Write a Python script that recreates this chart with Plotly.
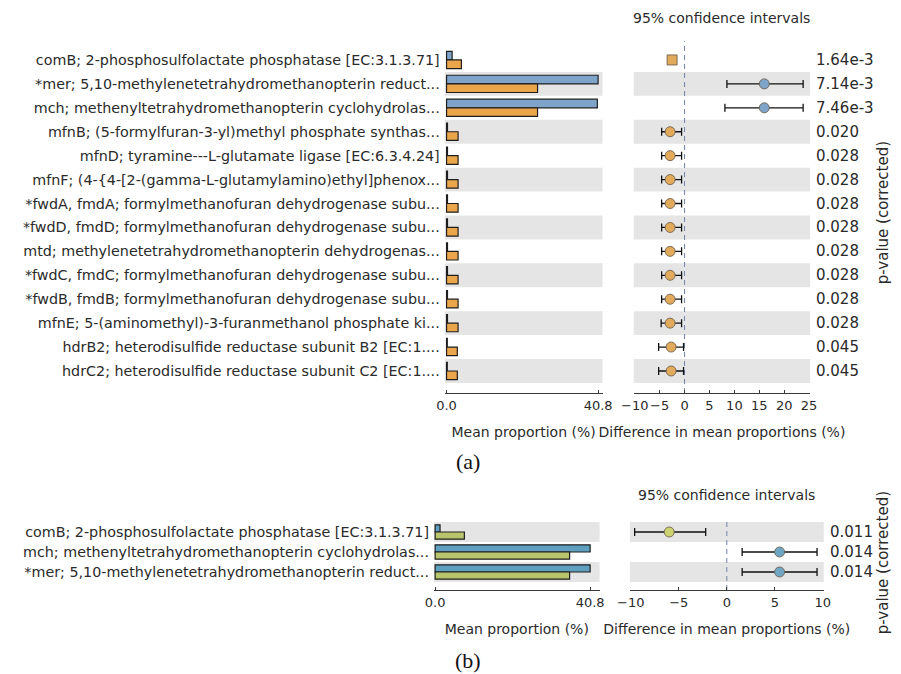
import plotly.graph_objects as go

W, H = 901, 674

# ---------------- Panel (a) data ----------------
a_features = [
    "comB; 2-phosphosulfolactate phosphatase [EC:3.1.3.71]",
    "*mer; 5,10-methylenetetrahydromethanopterin reduct...",
    "mch; methenyltetrahydromethanopterin cyclohydrolas...",
    "mfnB; (5-formylfuran-3-yl)methyl phosphate synthas...",
    "mfnD; tyramine---L-glutamate ligase [EC:6.3.4.24]",
    "mfnF; (4-{4-[2-(gamma-L-glutamylamino)ethyl]phenox...",
    "*fwdA, fmdA; formylmethanofuran dehydrogenase subu...",
    "*fwdD, fmdD; formylmethanofuran dehydrogenase subu...",
    "mtd; methylenetetrahydromethanopterin dehydrogenas...",
    "*fwdC, fmdC; formylmethanofuran dehydrogenase subu...",
    "*fwdB, fmdB; formylmethanofuran dehydrogenase subu...",
    "mfnE; 5-(aminomethyl)-3-furanmethanol phosphate ki...",
    "hdrB2; heterodisulfide reductase subunit B2 [EC:1....",
    "hdrC2; heterodisulfide reductase subunit C2 [EC:1....",
]
a_group1 = [1.5, 40.8, 40.6, 0.25, 0.25, 0.25, 0.25, 0.25, 0.25, 0.25, 0.25, 0.25, 0.2, 0.2]
a_group2 = [4.0, 24.5, 24.5, 3.1, 3.1, 3.1, 3.1, 3.1, 3.1, 3.1, 3.1, 3.1, 2.9, 2.9]
a_diff = [-2.5, 16.0, 16.0, -2.9, -2.9, -2.9, -2.9, -2.9, -2.9, -2.9, -2.9, -2.9, -2.7, -2.7]
a_ci_low = [-2.7, 8.5, 8.1, -4.6, -4.6, -4.6, -4.6, -4.6, -4.6, -4.6, -4.6, -4.7, -5.2, -5.2]
a_ci_high = [-2.3, 23.8, 23.8, -0.6, -0.6, -0.6, -0.6, -0.6, -0.6, -0.6, -0.6, -0.6, -0.2, -0.2]
a_pvalues = ["1.64e-3", "7.14e-3", "7.46e-3", "0.020", "0.028", "0.028", "0.028",
             "0.028", "0.028", "0.028", "0.028", "0.028", "0.045", "0.045"]
a_bar_ticks = [0.0, 40.8]
a_bar_ticktext = ["0.0", "40.8"]
a_ci_ticks = [-10, -5, 0, 5, 10, 15, 20, 25]

# ---------------- Panel (b) data ----------------
b_features = [
    "comB; 2-phosphosulfolactate phosphatase [EC:3.1.3.71]",
    "mch; methenyltetrahydromethanopterin cyclohydrolas...",
    "*mer; 5,10-methylenetetrahydromethanopterin reduct...",
]
b_group1 = [1.3, 40.8, 40.8]
b_group2 = [7.7, 35.4, 35.4]
b_diff = [-6.0, 5.5, 5.5]
b_ci_low = [-9.6, 1.6, 1.6]
b_ci_high = [-2.2, 9.4, 9.4]
b_pvalues = ["0.011", "0.014", "0.014"]
b_bar_ticks = [0.0, 40.8]
b_bar_ticktext = ["0.0", "40.8"]
b_ci_ticks = [-10, -5, 0, 5, 10]

# ---------------- styling ----------------
FONT = "DejaVu Sans"
TXT = "#2a2a2a"
BAND = "#e5e5e5"
FS_LAB = 14.3
FS_TICK = 13
FS_TITLE = 14
FS_P = 15

def px_x(p):
    return p / W

def px_y(p):
    return 1 - p / H

fig = go.Figure()

panels = [
    dict(feats=a_features, g1=a_group1, g2=a_group2, diff=a_diff, lo=a_ci_low, hi=a_ci_high,
         pv=a_pvalues, c1="#7ea5c9", c2="#eba64c", m1="#7ea5c9", m2="#e2ab5c",
         xb="x", yb="y", xc="x2", yc="y2",
         xb_dom=(443, 605), xc_dom=(637, 818), y_px=(48, 393),
         xb_range=[-0.5, 42.0], xc_range=[-10.2, 25.2],
         bticks=a_bar_ticks, btext=a_bar_ticktext, cticks=a_ci_ticks, pad=0.92,
         title_y=18, label="(a)", label_y=461, plab_y=213, standoff=15, square_first=True),
    dict(feats=b_features, g1=b_group1, g2=b_group2, diff=b_diff, lo=b_ci_low, hi=b_ci_high,
         pv=b_pvalues, c1="#5fa0c0", c2="#b9c56c", m1="#6ea6c4", m2="#cdd271",
         xb="x3", yb="y3", xc="x4", yc="y4",
         xb_dom=(432, 602), xc_dom=(633, 832), y_px=(522, 590),
         xb_range=[-0.3, 43.3], xc_range=[-10.1, 10.1],
         bticks=b_bar_ticks, btext=b_bar_ticktext, cticks=b_ci_ticks, pad=0.9,
         title_y=495, label="(b)", label_y=660, plab_y=563, standoff=15, square_first=False),
]

layout_axes = {}
shapes = []
annotations = []

def axname(ref):
    return ref.replace("x", "xaxis").replace("y", "yaxis")

for P in panels:
    n = len(P["feats"])
    fig.add_trace(go.Bar(x=P["g1"], y=P["feats"], orientation="h", xaxis=P["xb"], yaxis=P["yb"],
                         marker=dict(color=P["c1"], line=dict(color="#1e1e1e", width=1.2)),
                         showlegend=False, hoverinfo="x+y"))
    fig.add_trace(go.Bar(x=P["g2"], y=P["feats"], orientation="h", xaxis=P["xb"], yaxis=P["yb"],
                         marker=dict(color=P["c2"], line=dict(color="#1e1e1e", width=1.2)),
                         showlegend=False, hoverinfo="x+y"))
    plus = [h - d for h, d in zip(P["hi"], P["diff"])]
    minus = [d - l for d, l in zip(P["diff"], P["lo"])]
    mcols = [P["m2"] if d < 0 else P["m1"] for d in P["diff"]]
    symbols = ["circle"] * n
    if P["square_first"]:
        symbols[0] = "square"
    fig.add_trace(go.Scatter(x=P["diff"], y=P["feats"], mode="markers", xaxis=P["xc"], yaxis=P["yc"],
                             marker=dict(color=mcols, size=10, symbol=symbols,
                                         line=dict(color="#6f6150", width=0.9)),
                             error_x=dict(type="data", array=plus, arrayminus=minus, color="#111",
                                          thickness=1.3, width=4),
                             showlegend=False))

    ydom = [px_y(P["y_px"][1]), px_y(P["y_px"][0])]
    yrange = [n - 1 + P["pad"], -0.5]
    xbk, ybk, xck, yck = axname(P["xb"]), axname(P["yb"]), axname(P["xc"]), axname(P["yc"])
    common_x = dict(showline=True, linecolor="#3a3a3a", linewidth=1, ticks="inside", ticklen=3,
                    tickcolor="#3a3a3a", showgrid=False, zeroline=False, tickangle=0,
                    tickfont=dict(family=FONT, size=FS_TICK, color=TXT))
    layout_axes[xbk] = dict(common_x, domain=[px_x(P["xb_dom"][0]), px_x(P["xb_dom"][1])],
                            range=P["xb_range"], anchor=P["yb"], tickmode="array",
                            tickvals=P["bticks"], ticktext=P["btext"],
                            title=dict(text="Mean proportion (%)", standoff=P["standoff"],
                                       font=dict(family=FONT, size=FS_TITLE, color=TXT)))
    layout_axes[ybk] = dict(domain=ydom, type="category", categoryorder="array",
                            categoryarray=P["feats"], range=yrange, anchor=P["xb"],
                            showline=False, showgrid=False, zeroline=False, ticks="",
                            ticklabelstandoff=4,
                            tickfont=dict(family=FONT, size=FS_LAB, color=TXT))
    layout_axes[xck] = dict(common_x, domain=[px_x(P["xc_dom"][0]), px_x(P["xc_dom"][1])],
                            range=P["xc_range"], anchor=P["yc"], tickmode="array",
                            tickvals=P["cticks"],
                            title=dict(text="Difference in mean proportions (%)", standoff=P["standoff"],
                                       font=dict(family=FONT, size=FS_TITLE, color=TXT)))
    layout_axes[yck] = dict(domain=ydom, type="category", categoryorder="array",
                            categoryarray=P["feats"], range=yrange, anchor=P["xc"],
                            showline=False, showgrid=False, zeroline=False, showticklabels=False,
                            ticks="")

    for i in range(n):
        if (n - 1 - i) % 2 == 0:
            for xr, yr in ((P["xb"], P["yb"]), (P["xc"], P["yc"])):
                shapes.append(dict(type="rect", xref=f"{xr} domain", yref=yr, x0=0, x1=1,
                                   y0=i - 0.5, y1=i + 0.5, fillcolor=BAND, line=dict(width=0),
                                   layer="below"))
    shapes.append(dict(type="line", xref=P["xc"], yref=f"{P['yc']} domain", x0=0, x1=0, y0=0, y1=1.02,
                       line=dict(color="#7282aa", width=1, dash="5px,4px"), layer="below"))
    for f, p in zip(P["feats"], P["pv"]):
        annotations.append(dict(xref=f"{P['xc']} domain", yref=P["yc"], x=1, y=f, text=p,
                                xanchor="left", xshift=4, showarrow=False,
                                font=dict(family=FONT, size=FS_P, color=TXT)))
    annotations.append(dict(xref="paper", yref="paper", x=px_x(893), y=px_y(P["plab_y"]),
                            text="p-value (corrected)", textangle=-90, showarrow=False,
                            xanchor="center", yanchor="middle",
                            font=dict(family=FONT, size=15, color=TXT)))
    annotations.append(dict(xref=f"{P['xc']} domain", yref="paper", x=0.5, y=px_y(P["title_y"]),
                            text="95% confidence intervals", showarrow=False,
                            xanchor="center", yanchor="middle",
                            font=dict(family=FONT, size=FS_TITLE, color=TXT)))
    annotations.append(dict(xref="paper", yref="paper", x=px_x(467), y=px_y(P["label_y"]),
                            text=P["label"], showarrow=False, xanchor="center", yanchor="middle",
                            font=dict(family="Liberation Serif", size=22, color="#111")))

fig.update_layout(
    width=W, height=H, margin=dict(l=0, r=0, t=0, b=0),
    paper_bgcolor="white", plot_bgcolor="white",
    barmode="group", bargap=0.28, bargroupgap=0.0,
    shapes=shapes, annotations=annotations, showlegend=False,
    **layout_axes,
)

fig.write_html("out.html")
